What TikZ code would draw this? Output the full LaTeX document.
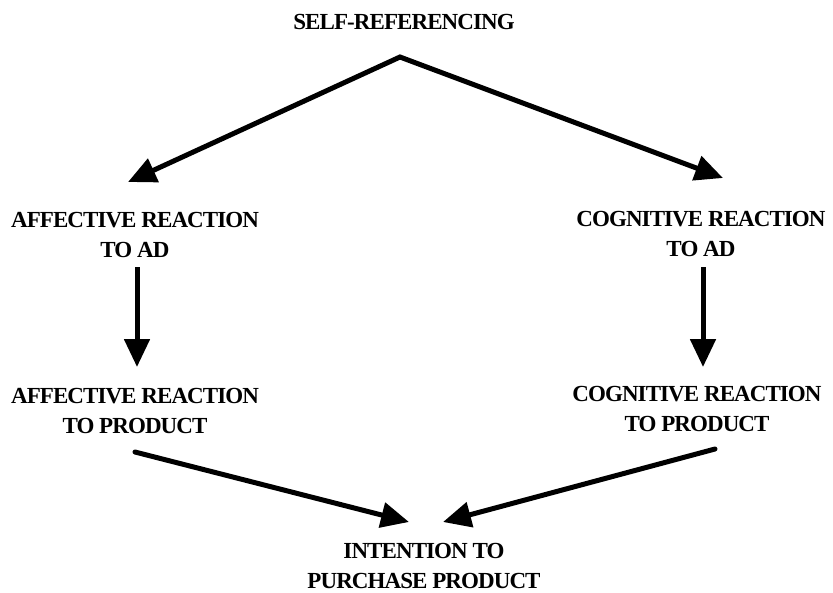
\documentclass[tikz,border=0pt]{standalone}
\usepackage{fontspec}
\setmainfont{Liberation Serif}
\newfontfamily\labelfont{Liberation Serif}[LetterSpace=-4]
\usetikzlibrary{arrows.meta}
\begin{document}
\begin{tikzpicture}[x=1pt,y=-1pt,
  label/.style={align=center,inner sep=0pt,
    font=\labelfont\bfseries\fontsize{23}{30}\selectfont},
  tip/.tip={Triangle[length=28pt,width=25pt]},
  flow/.style={line width=5pt,-tip}]
  \useasboundingbox (0,0) rectangle (833,592);
  % stage labels
  \node[label] (self)  at (404,22)  {SELF-REFERENCING};
  \node[label] (affad) at (135,235) {AFFECTIVE REACTION\\TO AD};
  \node[label] (cogad) at (701,234) {COGNITIVE REACTION\\TO AD};
  \node[label] (affpr) at (135,411) {AFFECTIVE REACTION\\TO PRODUCT};
  \node[label] (cogpr) at (697,409) {COGNITIVE REACTION\\TO PRODUCT};
  \node[label] (buy)   at (424,566) {INTENTION TO\\PURCHASE PRODUCT};
  % arrow ends
  \coordinate (apex)   at (400,57);
  \coordinate (affadin) at (128,182);
  \coordinate (cogadin) at (723,178);
  \coordinate (affadout) at (137,267);
  \coordinate (cogadout) at (703,267);
  \coordinate (affprin) at (137,367);
  \coordinate (cogprin) at (703,367);
  \coordinate (affprout) at (135,452);
  \coordinate (cogprout) at (715,449);
  \coordinate (buyinl) at (409,522);
  \coordinate (buyinr) at (443,522);
  % connectors
  \draw[line width=5pt,tip-tip] (affadin) -- (apex) -- (cogadin);
  \draw[flow] (affadout) -- (affprin);
  \draw[flow] (cogadout) -- (cogprin);
  \draw[flow,line cap=round] (affprout) -- (buyinl);
  \draw[flow,line cap=round] (cogprout) -- (buyinr);
\end{tikzpicture}
\end{document}
